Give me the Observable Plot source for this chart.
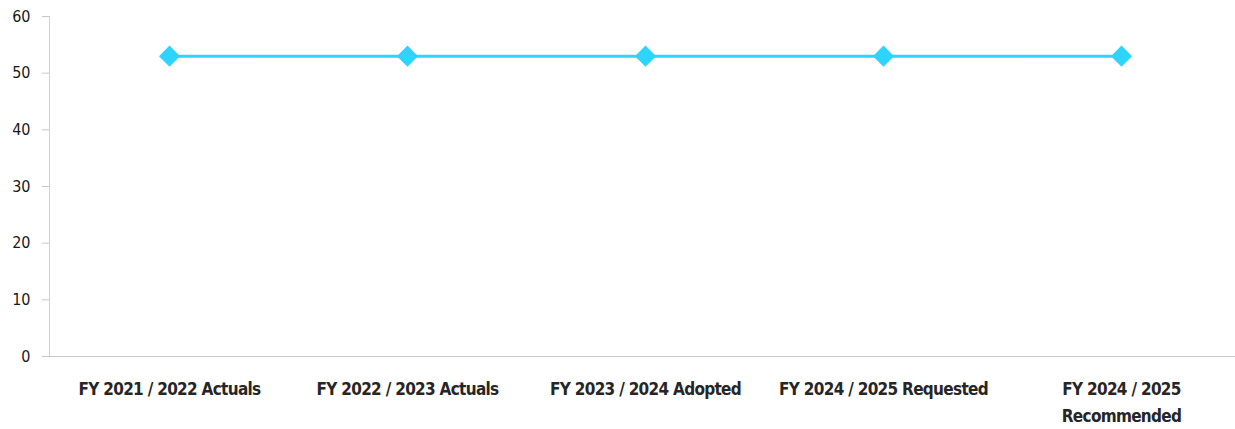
<!DOCTYPE html>
<html>
<head>
<meta charset="utf-8">
<script src="https://cdn.jsdelivr.net/npm/d3@7"></script>
<script src="https://cdn.jsdelivr.net/npm/@observablehq/plot@0.6"></script>
<style>
  html, body { margin: 0; padding: 0; background: #fff; }
  #chart svg { display: block; }
  #chart text { font-stretch: condensed; }
  #chart g[aria-label="x-axis tick label"] text { letter-spacing: -0.7px; }
</style>
</head>
<body>
<div id="chart"></div>
<script>
const categories = [
  "FY 2021 / 2022 Actuals",
  "FY 2022 / 2023 Actuals",
  "FY 2023 / 2024 Adopted",
  "FY 2024 / 2025 Requested",
  "FY 2024 / 2025 Recommended"
];
const values = [53, 53, 53, 53, 53];
const yTicks = [0, 10, 20, 30, 40, 50, 60];
const tickLabels = {
  "FY 2024 / 2025 Recommended": "FY 2024 / 2025\nRecommended"
};

const data = categories.map((c, i) => ({category: c, value: values[i]}));
const color = "#2dd4fd";
const font = "'DejaVu Sans Condensed', 'DejaVu Sans', sans-serif";

const chart = Plot.plot({
  width: 1235,
  height: 429,
  marginLeft: 49,
  marginRight: 0,
  marginTop: 16,
  marginBottom: 73,
  style: {background: "#fff", overflow: "visible"},
  x: {type: "point", domain: categories, padding: 0.5, range: [49, 1240]},
  y: {domain: [0, 60], range: [356, 16]},
  marks: [
    Plot.frame({anchor: "left", stroke: "#d0d0d0"}),
    Plot.ruleY([0], {stroke: "#c8c8c8", strokeWidth: 1.2}),
    Plot.axisY({
      ticks: yTicks,
      tickSize: 7,
      tickPadding: 12,
      stroke: "#c8c8c8",
      fill: "#1a1a1a",
      fontSize: 16,
      fontFamily: font,
      label: null
    }),
    Plot.axisX({
      tickSize: 0,
      tickPadding: 20,
      tickFormat: d => tickLabels[d] ?? d,
      fill: "#262626",
      fontSize: 17,
      fontWeight: "bold",
      fontFamily: font,
      lineHeight: 1.55,
      label: null
    }),
    Plot.line(data, {x: "category", y: "value", stroke: color, strokeWidth: 3}),
    Plot.dot(data, {x: "category", y: "value", symbol: "diamond2", r: 9.5, fill: color, stroke: "none"})
  ]
});
document.getElementById("chart").appendChild(chart);
</script>
</body>
</html>
